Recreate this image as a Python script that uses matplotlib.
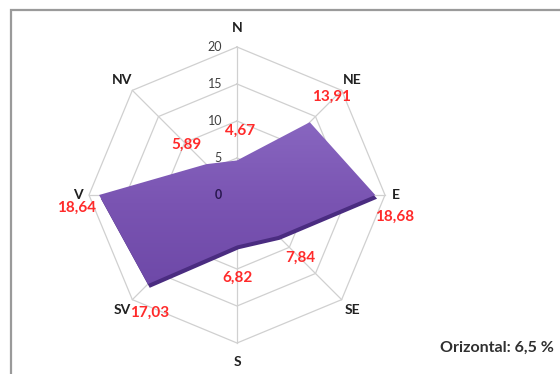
import numpy as np
import matplotlib.pyplot as plt
from matplotlib.patches import Polygon, Rectangle
from matplotlib.colors import LinearSegmentedColormap

directions = ['N', 'NE', 'E', 'SE', 'S', 'SV', 'V', 'NV']
values = [4.67, 13.91, 18.68, 7.84, 6.82, 17.03, 18.64, 5.89]
value_labels = ['4,67', '13,91', '18,68', '7,84', '6,82', '17,03', '18,64', '5,89']
rings = [5, 10, 15, 20]
ring_labels = ['0', '5', '10', '15', '20']
note = 'Orizontal: 6,5 %'

# label offsets in pixels (dx, dy) relative to each data point
label_offsets = [(3, 30), (22, 25), (19, -22), (22, -22), (1, -32), (2, -29), (-23, -13), (-20, 19)]

plt.rcParams['font.family'] = ['Lato', 'DejaVu Sans']

fig = plt.figure(figsize=(5.6, 3.74), dpi=100)
ax = fig.add_axes([0, 0, 1, 1])
ax.axis('off')

# chart area frame
fig.patches.append(Rectangle((11 / 560, -0.1), 1.2, (374 - 10) / 374 + 0.1,
                             transform=fig.transFigure, fill=False,
                             edgecolor='#9a9a9a', linewidth=1.6))

angles = np.radians(90 - 45 * np.arange(len(directions)))
cx, cy = np.cos(angles), np.sin(angles)

# octagon grid
for r in rings:
    xs = np.append(r * cx, r * cx[0])
    ys = np.append(r * cy, r * cy[0])
    ax.plot(xs, ys, color='#d0d0d0', linewidth=0.9, zorder=1)
for i in range(len(directions)):
    ax.plot([0, rings[-1] * cx[i]], [0, rings[-1] * cy[i]], color='#d0d0d0', linewidth=0.9, zorder=1)

v = np.array(values)
px, py = v * cx, v * cy

# shadow along the lower edges
shadow = Polygon(np.column_stack([px + 0.25, py - 0.5]), closed=True,
                 facecolor='#4a2c80', edgecolor='none', zorder=2)
ax.add_patch(shadow)

# main fill with a soft vertical gradient
main = Polygon(np.column_stack([px, py]), closed=True,
               facecolor='none', edgecolor='none', zorder=3)
ax.add_patch(main)
cmap = LinearSegmentedColormap.from_list('purp', ['#6e49a8', '#7a54b2', '#8866c0'])
grad = np.linspace(0, 1, 256).reshape(-1, 1)
img = ax.imshow(grad, cmap=cmap, origin='lower', aspect='auto',
                extent=[px.min(), px.max(), py.min(), py.max()], zorder=3)
img.set_clip_path(main)

ax.set_xlim(-237 / 7.4, (560 - 237) / 7.4)
ax.set_ylim(-(374 - 195) / 7.4, 195 / 7.4)
ax.set_aspect('equal')

# radial tick labels along N axis
for j, lab in enumerate(ring_labels):
    r = 5 * j
    ax.annotate(lab, (0, r), xytext=(-15, 0), textcoords='offset pixels',
                ha='right', va='center', fontsize=9,
                color='#2a1850' if r == 0 else '#404040',
                fontweight='bold' if r == 0 else 'normal', zorder=5)

# direction labels
for i, d in enumerate(directions):
    rr = 22.6 if d in ('N', 'S') else (21.5 if d in ('E', 'V') else 22.0)
    ax.text(rr * cx[i], rr * cy[i], d, ha='center', va='center',
            fontsize=10, fontweight='bold', color='#202020', zorder=5)

# value labels
for i, lab in enumerate(value_labels):
    ax.annotate(lab, (px[i], py[i]), xytext=label_offsets[i], textcoords='offset pixels',
                ha='center', va='center', fontsize=11, fontweight='bold',
                color='#ff2a2a', zorder=6)

fig.text(497 / 560, 1 - 348 / 374, note, ha='center', va='center',
         fontsize=11.5, fontweight='bold', color='#303030')

fig.savefig('out.png', dpi=100)
